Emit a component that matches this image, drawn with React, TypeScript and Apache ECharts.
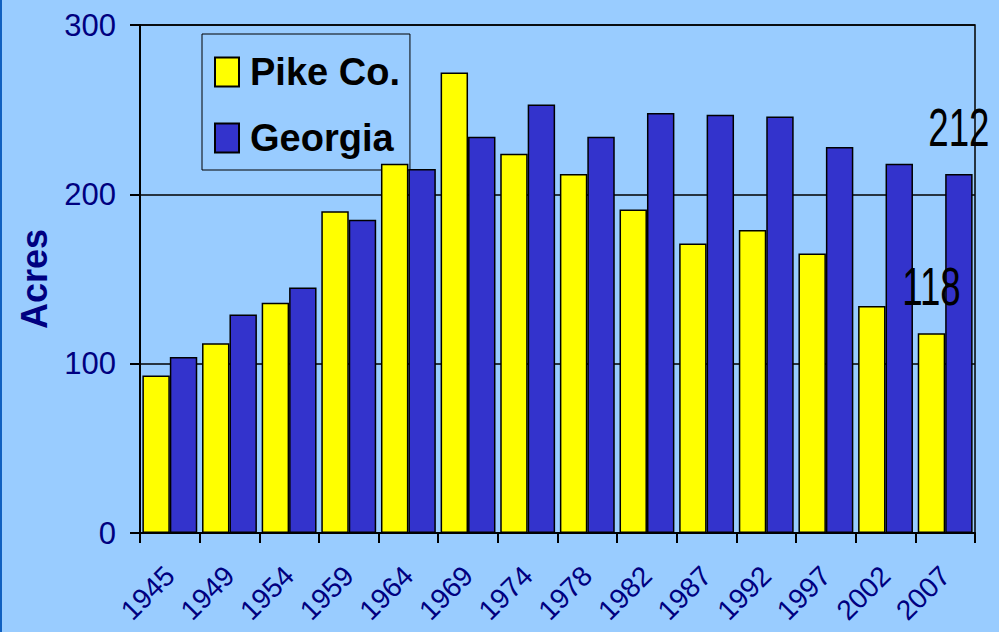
import React, { useEffect, useRef } from "react";
import * as echarts from "echarts";

const years = ["1945", "1949", "1954", "1959", "1964", "1969", "1974", "1978", "1982", "1987", "1992", "1997", "2002", "2007"];
const pike = [93, 112, 136, 190, 218, 272, 224, 212, 191, 171, 179, 165, 134, 118];
const georgia = [104, 129, 145, 185, 215, 234, 253, 234, 248, 247, 246, 228, 218, 212];
const yTicks = [0, 100, 200, 300];
const seriesNames = ["Pike Co.", "Georgia"];

const NAVY = "#000080";
const SANS = "'Liberation Sans', Arial, sans-serif";

export default function App() {
  const ref = useRef<HTMLDivElement>(null);
  useEffect(() => {
    if (!ref.current) return;
    const chart = echarts.init(ref.current, null, { renderer: "svg" });
    const lastIdx = years.length - 1;
    chart.setOption({
      animation: false,
      backgroundColor: "#99CCFF",
      grid: {
        left: 140,
        right: 24,
        top: 25,
        bottom: 99,
        containLabel: false,
        outerBoundsMode: "none",
        show: true,
        borderColor: "#000",
        borderWidth: 1.5,
        backgroundColor: "transparent",
      },
      legend: {
        orient: "vertical",
        left: 202,
        top: 34,
        z: 1,
        padding: [19, 10, 13, 12],
        itemWidth: 24,
        itemHeight: 29,
        itemGap: 28,
        icon: "rect",
        borderColor: "#000",
        borderWidth: 1,
        backgroundColor: "#99CCFF",
        data: seriesNames,
        textStyle: {
          color: "#000",
          fontFamily: SANS,
          fontWeight: "bold",
          fontSize: 38,
          padding: [0, 0, 0, 6],
        },
      },
      xAxis: {
        type: "category",
        data: years,
        axisLine: { lineStyle: { color: "#000", width: 2 } },
        axisTick: { show: true, length: 10, lineStyle: { color: "#000", width: 2 } },
        axisLabel: {
          rotate: 45,
          margin: 38,
          color: NAVY,
          fontFamily: SANS,
          fontSize: 28,
        },
      },
      yAxis: {
        type: "value",
        min: 0,
        max: 300,
        interval: 100,
        name: "Acres",
        nameLocation: "middle",
        nameRotate: 90,
        nameGap: 88,
        nameTextStyle: {
          color: NAVY,
          fontFamily: SANS,
          fontWeight: "bold",
          fontSize: 36,
        },
        axisLine: { show: true, lineStyle: { color: "#000", width: 2 } },
        axisTick: { show: true, length: 10, lineStyle: { color: "#000", width: 2 } },
        splitLine: { show: true, lineStyle: { color: "#000", width: 1.5 } },
        axisLabel: {
          margin: 24,
          color: NAVY,
          fontFamily: SANS,
          fontSize: 31,
          formatter: (v: number) => (yTicks.includes(v) ? String(v) : ""),
        },
      },
      series: [
        {
          name: seriesNames[0],
          type: "bar",
          data: pike,
          barGap: "0%",
          barCategoryGap: "8%",
          itemStyle: { color: "#FFFF00", borderColor: "#000", borderWidth: 1.5 },
        },
        {
          name: seriesNames[1],
          type: "bar",
          data: georgia,
          itemStyle: { color: "#3333CC", borderColor: "#000", borderWidth: 1.5 },
        },
      ],
    });

    // value labels above the last pair of bars, placed from the library's bar layout
    const labelFor = (seriesIndex: number, value: number) => {
      let cx = 0;
      let top = 0;
      try {
        const lay = (chart as any)
          .getModel()
          .getSeriesByIndex(seriesIndex)
          .getData()
          .getItemLayout(lastIdx);
        cx = lay.x + lay.width / 2;
        top = Math.min(lay.y, lay.y + lay.height);
      } catch (e) {
        const p = chart.convertToPixel({ seriesIndex }, [lastIdx, value]) as number[];
        cx = p[0];
        top = p[1];
      }
      return {
        type: "text",
        x: cx,
        y: top - 20,
        scaleX: 0.68,
        style: {
          text: String(value),
          fill: "#000",
          font: "54px 'Liberation Sans', Arial, sans-serif",
          textAlign: "center",
          textVerticalAlign: "bottom",
          verticalAlign: "bottom",
        },
        z: 100,
      };
    };
    chart.setOption({
      graphic: [
        {
          type: "rect",
          left: 0,
          top: 0,
          shape: { width: 2, height: 632 },
          style: { fill: "#1060C0" },
        },
        labelFor(1, georgia[lastIdx]),
        labelFor(0, pike[lastIdx]),
      ],
    });
    return () => chart.dispose();
  }, []);
  return (
    <div
      ref={ref}
      style={{ position: "fixed", left: 0, top: 0, width: 999, height: 632 }}
    />
  );
}
